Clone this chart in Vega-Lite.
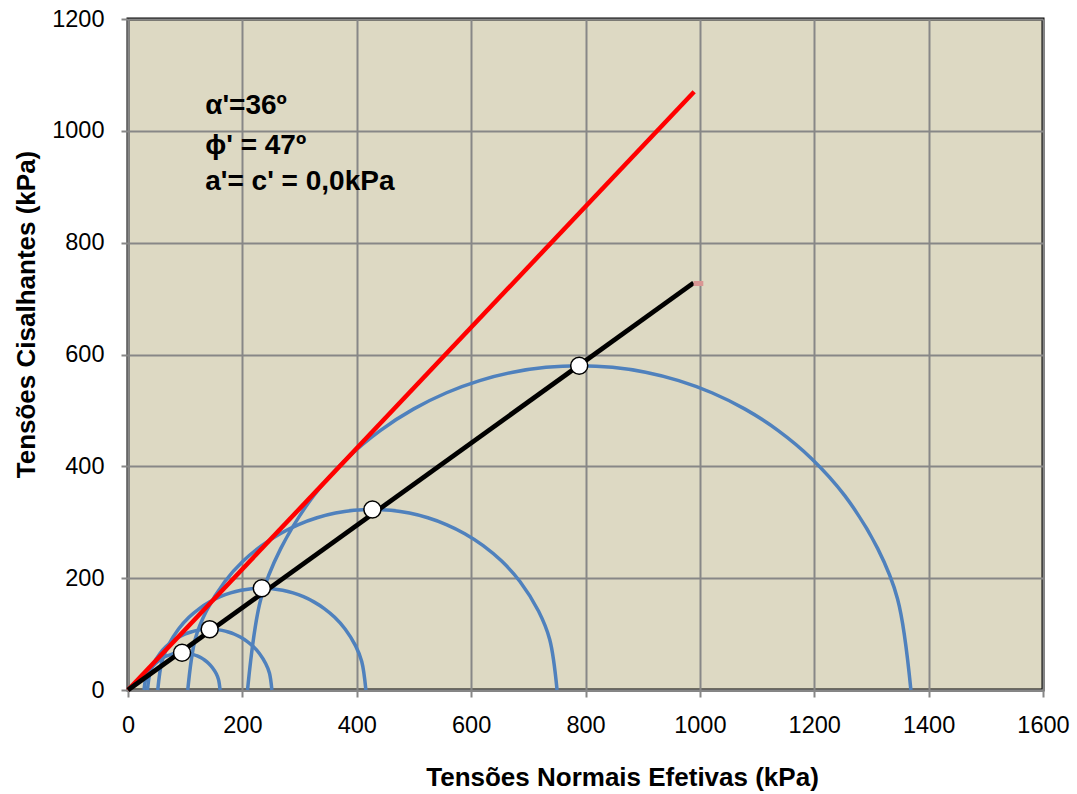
{
  "$schema": "https://vega.github.io/schema/vega-lite/v6.json",
  "width": 915,
  "height": 671,
  "autosize": {"type": "none"},
  "padding": {"left": 128, "top": 19, "right": 34, "bottom": 104},
  "background": "#FFFFFF",
  "config": {
    "view": {"fill": "#DDD9C3", "stroke": "#000000", "strokeWidth": 3},
    "font": "Liberation Sans"
  },
  "datasets": {
    "circles": [
      {"c":1,"s":28.0,"t":0},{"c":1,"s":30.7,"t":18.6},{"c":1,"s":34.7,"t":29.0},{"c":1,"s":41.3,"t":39.9},{"c":1,"s":48.0,"t":47.5},{"c":1,"s":54.6,"t":53.2},{"c":1,"s":61.3,"t":57.6},{"c":1,"s":67.9,"t":60.9},{"c":1,"s":74.6,"t":63.4},{"c":1,"s":81.2,"t":65.2},{"c":1,"s":87.9,"t":66.2},{"c":1,"s":94.5,"t":66.5},{"c":1,"s":101.2,"t":66.2},{"c":1,"s":107.8,"t":65.2},{"c":1,"s":114.5,"t":63.4},{"c":1,"s":121.1,"t":60.9},{"c":1,"s":127.8,"t":57.6},{"c":1,"s":134.4,"t":53.2},{"c":1,"s":141.1,"t":47.5},{"c":1,"s":147.7,"t":39.9},{"c":1,"s":154.4,"t":29.0},{"c":1,"s":158.3,"t":18.6},{"c":1,"s":161.0,"t":0},
      {"c":2,"s":34.0,"t":0},{"c":2,"s":38.4,"t":30.5},{"c":2,"s":44.9,"t":47.4},{"c":2,"s":55.8,"t":65.3},{"c":2,"s":66.6,"t":77.7},{"c":2,"s":77.5,"t":87.0},{"c":2,"s":88.4,"t":94.2},{"c":2,"s":99.3,"t":99.7},{"c":2,"s":110.2,"t":103.8},{"c":2,"s":121.0,"t":106.6},{"c":2,"s":131.9,"t":108.3},{"c":2,"s":142.8,"t":108.8},{"c":2,"s":153.7,"t":108.3},{"c":2,"s":164.6,"t":106.6},{"c":2,"s":175.4,"t":103.8},{"c":2,"s":186.3,"t":99.7},{"c":2,"s":197.2,"t":94.2},{"c":2,"s":208.1,"t":87.0},{"c":2,"s":219.0,"t":77.7},{"c":2,"s":229.8,"t":65.3},{"c":2,"s":240.7,"t":47.4},{"c":2,"s":247.3,"t":30.5},{"c":2,"s":251.6,"t":0},
      {"c":3,"s":52.0,"t":0},{"c":3,"s":59.3,"t":51.0},{"c":3,"s":70.2,"t":79.3},{"c":3,"s":88.4,"t":109.2},{"c":3,"s":106.6,"t":130.0},{"c":3,"s":124.8,"t":145.6},{"c":3,"s":143.0,"t":157.6},{"c":3,"s":161.2,"t":166.8},{"c":3,"s":179.4,"t":173.6},{"c":3,"s":197.6,"t":178.3},{"c":3,"s":215.8,"t":181.1},{"c":3,"s":234.0,"t":182.0},{"c":3,"s":252.2,"t":181.1},{"c":3,"s":270.4,"t":178.3},{"c":3,"s":288.6,"t":173.6},{"c":3,"s":306.8,"t":166.8},{"c":3,"s":325.0,"t":157.6},{"c":3,"s":343.2,"t":145.6},{"c":3,"s":361.4,"t":130.0},{"c":3,"s":379.6,"t":109.2},{"c":3,"s":397.8,"t":79.3},{"c":3,"s":408.7,"t":51.0},{"c":3,"s":416.0,"t":0},
      {"c":4,"s":104.5,"t":0},{"c":4,"s":117.4,"t":90.4},{"c":4,"s":136.8,"t":140.8},{"c":4,"s":169.1,"t":193.7},{"c":4,"s":201.4,"t":230.6},{"c":4,"s":233.7,"t":258.3},{"c":4,"s":266.0,"t":279.6},{"c":4,"s":298.2,"t":295.9},{"c":4,"s":330.5,"t":308.0},{"c":4,"s":362.8,"t":316.4},{"c":4,"s":395.1,"t":321.3},{"c":4,"s":427.4,"t":322.9},{"c":4,"s":459.7,"t":321.3},{"c":4,"s":492.0,"t":316.4},{"c":4,"s":524.3,"t":308.0},{"c":4,"s":556.6,"t":295.9},{"c":4,"s":588.9,"t":279.6},{"c":4,"s":621.1,"t":258.3},{"c":4,"s":653.4,"t":230.6},{"c":4,"s":685.7,"t":193.7},{"c":4,"s":718.0,"t":140.8},{"c":4,"s":737.4,"t":90.4},{"c":4,"s":750.3,"t":0},
      {"c":5,"s":209.0,"t":0},{"c":5,"s":232.2,"t":162.4},{"c":5,"s":267.0,"t":252.8},{"c":5,"s":325.0,"t":348.0},{"c":5,"s":383.0,"t":414.2},{"c":5,"s":441.0,"t":464.0},{"c":5,"s":499.0,"t":502.3},{"c":5,"s":557.0,"t":531.6},{"c":5,"s":615.0,"t":553.3},{"c":5,"s":673.0,"t":568.3},{"c":5,"s":731.0,"t":577.1},{"c":5,"s":789.0,"t":580.0},{"c":5,"s":847.0,"t":577.1},{"c":5,"s":905.0,"t":568.3},{"c":5,"s":963.0,"t":553.3},{"c":5,"s":1021.0,"t":531.6},{"c":5,"s":1079.0,"t":502.3},{"c":5,"s":1137.0,"t":464.0},{"c":5,"s":1195.0,"t":414.2},{"c":5,"s":1253.0,"t":348.0},{"c":5,"s":1311.0,"t":252.8},{"c":5,"s":1345.8,"t":162.4},{"c":5,"s":1369.0,"t":0}
    ],
    "lines": [
      {"line":"envelope","s":0,"t":0},{"line":"envelope","s":990,"t":1070},
      {"line":"kf","s":0,"t":0},{"line":"kf","s":989,"t":728},
      {"line":"end","s":989,"t":727},{"line":"end","s":1006,"t":727}
    ],
    "points": [
      {"s":94.5,"t":66.5},{"s":142.8,"t":108.8},{"s":234.0,"t":182.0},{"s":427.4,"t":322.9},{"s":789.0,"t":580.0}
    ],
    "notes": [
      {"s":135,"t":1030,"label":"α'=36º"},
      {"s":135,"t":958,"label":"ϕ' = 47º"},
      {"s":135,"t":894,"label":"a'= c' = 0,0kPa"}
    ]
  },
  "encoding": {
    "x": {
      "field": "s", "type": "quantitative",
      "scale": {"domain": [0, 1600], "nice": false, "zero": false},
      "axis": {
        "title": "Tensões Normais Efetivas (kPa)",
        "values": [0,200,400,600,800,1000,1200,1400,1600],
        "format": "d", "labelFlush": false, "labelOverlap": false,
        "grid": true, "gridColor": "#878787", "gridWidth": 2, "gridOpacity": 1,
        "domainColor": "#878787", "domainWidth": 2,
        "tickColor": "#878787", "tickWidth": 2, "tickSize": 7,
        "labelFontSize": 23.5, "labelColor": "#000000", "labelPadding": 16, "labelFont": "Liberation Sans",
        "titleFontSize": 26, "titleFontWeight": "bold", "titleColor": "#000000", "titleFont": "Liberation Sans",
        "titleX": 494, "titleY": 95, "titleBaseline": "alphabetic", "titleAnchor": null, "titleAlign": "center"
      }
    },
    "y": {
      "field": "t", "type": "quantitative",
      "scale": {"domain": [0, 1200], "nice": false, "zero": false},
      "axis": {
        "title": "Tensões Cisalhantes (kPa)",
        "values": [0,200,400,600,800,1000,1200],
        "format": "d", "labelFlush": false, "labelOverlap": false,
        "grid": true, "gridColor": "#878787", "gridWidth": 2, "gridOpacity": 1,
        "domainColor": "#878787", "domainWidth": 2,
        "tickColor": "#878787", "tickWidth": 2, "tickSize": 7,
        "labelFontSize": 23.5, "labelColor": "#000000", "labelPadding": 17, "labelFont": "Liberation Sans",
        "titleFontSize": 26, "titleFontWeight": "bold", "titleColor": "#000000", "titleFont": "Liberation Sans",
        "titleX": -94, "titleY": 295, "titleBaseline": "alphabetic", "titleAngle": -90, "titleAlign": "center"
      }
    }
  },
  "layer": [
    {
      "data": {"name": "circles"},
      "mark": {"type": "line", "interpolate": "catmull-rom", "color": "#4F81BD", "strokeWidth": 3.5},
      "encoding": {"detail": {"field": "c", "type": "nominal"}, "order": {"field": "s", "type": "quantitative"}}
    },
    {
      "data": {"name": "lines"},
      "mark": {"type": "line", "strokeCap": "butt"},
      "encoding": {
        "color": {"field": "line", "type": "nominal", "scale": {"domain": ["envelope","kf","end"], "range": ["#FF0000","#000000","#D99694"]}, "legend": null},
        "strokeWidth": {"field": "line", "type": "nominal", "scale": {"domain": ["envelope","kf","end"], "range": [4.5, 5, 6]}, "legend": null}
      }
    },
    {
      "data": {"name": "points"},
      "mark": {"type": "point", "shape": "circle", "filled": true, "fill": "#FFFFFF", "stroke": "#000000", "strokeWidth": 1.5, "size": 290, "opacity": 1}
    },
    {
      "data": {"name": "notes"},
      "mark": {"type": "text", "align": "left", "baseline": "alphabetic", "fontSize": 28, "fontWeight": "bold", "font": "Liberation Sans", "color": "#000000"},
      "encoding": {"text": {"field": "label"}}
    }
  ]
}
